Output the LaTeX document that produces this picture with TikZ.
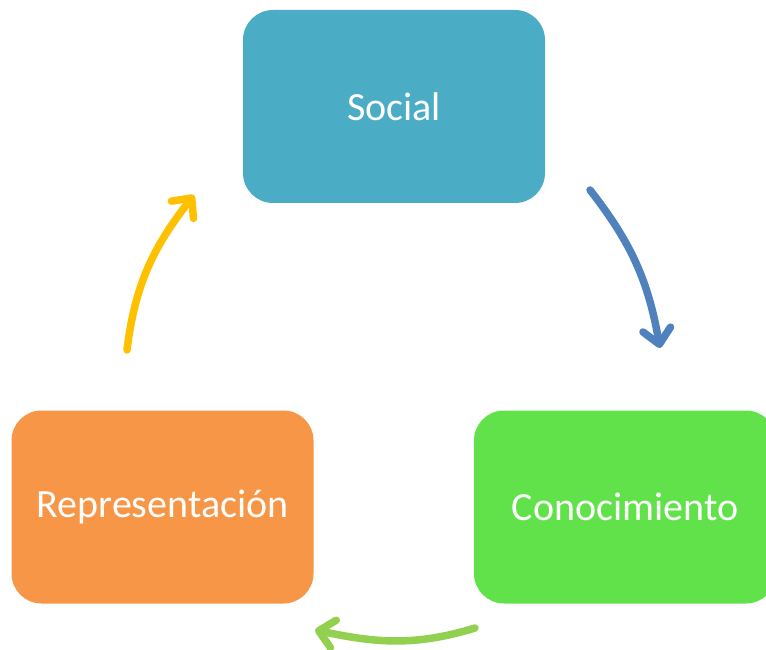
\documentclass[tikz,border=0pt]{standalone}
\usepackage{fontspec}
\setmainfont{Carlito}
\usetikzlibrary{arrows.meta}
\definecolor{socialblue}{HTML}{4BACC6}
\definecolor{repOrange}{HTML}{F79646}
\definecolor{conGreen}{HTML}{62E24A}
\definecolor{arrBlue}{HTML}{4F81BD}
\definecolor{arrGreen}{HTML}{92D050}
\definecolor{arrYellow}{HTML}{FFC000}
\tikzset{
  stage/.style={rounded corners=30pt, minimum height=193pt, minimum width=302pt,
    inner sep=0pt, text=white, font=\fontsize{40}{48}\selectfont},
  cycarrow/.style={line width=7.5pt, line cap=round,
    -{Straight Barb[round,length=15pt,width=28pt]}}
}
\begin{document}
\begin{tikzpicture}[x=1pt, y=1pt]
\useasboundingbox (0,0) rectangle (766,649);
% boxes
\node[stage, fill=socialblue] (social) at (394,542.5) {Social};
\node[stage, fill=repOrange] (repr) at (162.5,142) {Representación};
\node[stage, fill=conGreen] (conoc) at (625,142) {Conocimiento};
% arrow ends
\coordinate (sa) at (590,459); \coordinate (sb) at (660,301);
\coordinate (ca) at (475,21);  \coordinate (cb) at (315,19);
\coordinate (ra) at (127,299); \coordinate (rb) at (194,454);
% arrows
\draw[cycarrow, arrBlue] (sa) to[out=-52, in=100] (sb);
\draw[cycarrow, arrGreen] (ca) to[out=-163, in=-12] (cb);
\draw[cycarrow, arrYellow] (ra) to[out=83, in=-128] (rb);
\end{tikzpicture}
\end{document}
